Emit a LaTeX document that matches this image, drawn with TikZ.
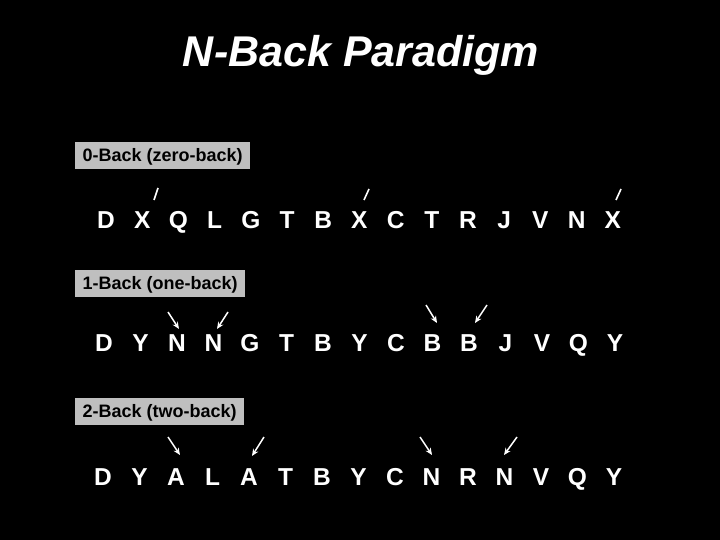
\documentclass[tikz,border=0pt]{standalone}
\usepackage{fontspec}
\setmainfont{Liberation Sans}
\usetikzlibrary{arrows.meta}
\begin{document}
\begin{tikzpicture}[x=1bp,y=-1bp,
  letter/.style={text=white,font=\bfseries\fontsize{24.5bp}{28bp}\selectfont,anchor=base,inner sep=0pt},
  lbl/.style={fill=black!25,text=black,font=\bfseries\fontsize{18bp}{20bp}\selectfont,anchor=west,
    inner xsep=7.5bp,inner ysep=0pt,minimum height=27bp,text height=12.9bp,text depth=0bp},
  hit/.style={draw=white,line width=1.5bp,-{Stealth[length=7bp,width=6bp]}},
  tick/.style={draw=white,line width=1.6bp}]
\fill[black] (0,0) rectangle (720,540);
\useasboundingbox (0,0) rectangle (720,540);
\node[text=white,font=\bfseries\itshape\fontsize{43bp}{48bp}\selectfont,anchor=base,inner sep=0pt] (title) at (361,67) {N-Back Paradigm};
\node[lbl] (l0) at (75,155.5) {0-Back (zero-back)};
\node[lbl] (l1) at (75,283.5) {1-Back (one-back)};
\node[lbl] (l2) at (75,411) {2-Back (two-back)};
\foreach \l [count=\i from 0] in {D,X,Q,L,G,T,B,X,C,T,R,J,V,N,X}
  \node[letter] (a\i) at ({106+36.2*\i},229) {\l};
\foreach \l [count=\i from 0] in {D,Y,N,N,G,T,B,Y,C,B,B,J,V,Q,Y}
  \node[letter] (b\i) at ({104+36.5*\i},351) {\l};
\foreach \l [count=\i from 0] in {D,Y,A,L,A,T,B,Y,C,N,R,N,V,Q,Y}
  \node[letter] (c\i) at ({103+36.5*\i},485) {\l};
% zero-back ticks
\coordinate (t1a) at (154,200); \coordinate (t1b) at (158,188);
\coordinate (t2a) at (364,200); \coordinate (t2b) at (369,189);
\coordinate (t3a) at (616,200); \coordinate (t3b) at (621,189);
\draw[tick] (t1a) -- (t1b);
\draw[tick] (t2a) -- (t2b);
\draw[tick] (t3a) -- (t3b);
% one-back arrows
\coordinate (p1s) at (168,312); \coordinate (p1e) at (179,329);
\coordinate (p2s) at (228,312); \coordinate (p2e) at (217,329);
\coordinate (p3s) at (426,305); \coordinate (p3e) at (437,323);
\coordinate (p4s) at (487,305); \coordinate (p4e) at (475,323);
\draw[hit] (p1s) -- (p1e);
\draw[hit] (p2s) -- (p2e);
\draw[hit] (p3s) -- (p3e);
\draw[hit] (p4s) -- (p4e);
% two-back arrows
\coordinate (q1s) at (168,437); \coordinate (q1e) at (180,455);
\coordinate (q2s) at (264,437); \coordinate (q2e) at (252,456);
\coordinate (q3s) at (420,437); \coordinate (q3e) at (432,455);
\coordinate (q4s) at (517,437); \coordinate (q4e) at (504,455);
\draw[hit] (q1s) -- (q1e);
\draw[hit] (q2s) -- (q2e);
\draw[hit] (q3s) -- (q3e);
\draw[hit] (q4s) -- (q4e);
\end{tikzpicture}
\end{document}
